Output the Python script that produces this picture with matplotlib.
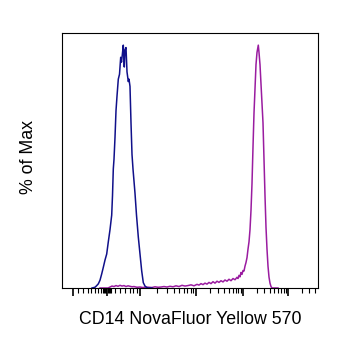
import numpy as np
import matplotlib
matplotlib.use("Agg")
import matplotlib.pyplot as plt

# ---- data (x in display channels 0..256, y in % of max) ----
blue_x = [30, 33, 34.5, 36.3, 38, 39.7, 41.3, 43, 44.7, 46.3, 48, 49.7, 50.5, 51.3, 52, 53, 54,
          55, 56.3, 57.5, 58.7, 59.5, 60.3, 61.3, 62.3, 63, 64, 65, 66.3, 67, 68, 69, 70, 71,
          72, 73, 74.5, 76.3, 78, 79.7, 81.3, 83, 84.7, 86, 90]
blue_y = [0, 0.3, 0.9, 1.7, 3.2, 5.8, 8.5, 11.5, 14, 19, 24, 30, 38, 49, 53, 62, 73,
          79, 86, 88, 95, 93, 96, 100, 91, 98, 99, 89, 85, 86, 83, 68, 55, 49,
          44, 39, 30, 21, 14, 7, 2.2, 0.8, 0.2, 0, 0]

mag_x = [38, 46, 48, 50, 52, 54, 56, 58, 60, 62, 64, 66, 68, 70, 72, 75, 78, 81, 84, 87, 90,
         93, 96, 99, 102, 105, 108, 111, 114, 117, 120, 123, 126, 129, 132, 135, 137, 139,
         141, 143, 145, 147, 149, 151, 153, 155, 157, 159, 161, 163, 165, 167, 169, 171, 173,
         175, 176, 177, 178, 179, 180, 181, 182, 183, 184, 185, 186, 187, 188, 189, 190, 191,
         192, 193, 194, 195, 196.3, 197, 198, 199, 200, 201, 202, 203, 204, 205, 206, 207,
         208, 209, 210, 216]
mag_y = [0, 0, 0.4, 0.8, 0.6, 1.0, 0.7, 1.1, 0.8, 1.0, 0.6, 0.9, 0.7, 0.5, 0.6, 0.3, 0.4, 0.2,
         0.4, 0.3, 0.2, 0.5, 0.3, 0.4, 0.6, 0.4, 0.7, 0.5, 0.9, 0.6, 1.1, 0.8, 1.0, 1.3, 0.9,
         1.5, 1.2, 1.8, 1.4, 2.0, 1.6, 2.3, 1.8, 2.6, 2.0, 2.8, 2.3, 3.0, 2.5, 3.3, 2.8, 3.6,
         3.0, 3.9, 3.4, 4.4, 3.9, 5.2, 4.6, 6.4, 5.6, 7.2, 7.0, 9.0, 10.5, 12.5, 16, 19, 24,
         32, 43, 58, 72, 82, 92, 97, 100, 97, 92, 84, 76, 68, 53, 38, 25, 16, 9, 4.5, 2,
         0.6, 0, 0]

# axis tick marks (display channels)
major_ticks = [11, 45, 78, 134, 181, 226]
minor_near_zero = [16, 21, 26, 29, 33, 36, 39, 41, 42, 43, 44, 46, 47, 48, 49,
                   53, 58, 63, 68, 71, 75]

xlabel = "CD14 NovaFluor Yellow 570"
ylabel = "% of Max"

blue_color = "#10108a"
mag_color = "#9a1ca0"

plt.rcParams['font.family'] = ['Liberation Sans', 'DejaVu Sans']

fig = plt.figure(figsize=(3.39, 3.45), dpi=100)
ax = fig.add_axes([62/339, 1 - 288/345, 256/339, 255/345])

ax.plot(mag_x, mag_y, color=mag_color, lw=1.1, zorder=2)
ax.plot(blue_x, blue_y, color=blue_color, lw=1.1, zorder=3)

ax.set_xlim(0, 256)
ax.set_ylim(0, 105)

# minor ticks: near-zero region plus log decades
minors = list(minor_near_zero)
for a, b in zip(major_ticks[2:], major_ticks[3:] + [major_ticks[-1] + 45]):
    for m in range(2, 10):
        p = a + (b - a) * np.log10(m)
        if p < 256:
            minors.append(p)
ax.set_xticks(major_ticks)
ax.set_xticks(minors, minor=True)
ax.set_xticklabels([])
ax.tick_params(axis='x', which='major', direction='out', length=5.5, width=1.2, color='black')
ax.tick_params(axis='x', which='minor', direction='out', length=3.6, width=0.8, color='black')
ax.set_yticks([])

for s in ax.spines.values():
    s.set_linewidth(0.8)
    s.set_color('black')

ax.set_xlabel(xlabel, fontsize=12.8)
ax.xaxis.set_label_coords(0.5, -0.09)
ax.set_ylabel(ylabel, fontsize=12.8)
ax.yaxis.set_label_coords(-0.098, 0.512)

fig.savefig("out.png", dpi=100)
